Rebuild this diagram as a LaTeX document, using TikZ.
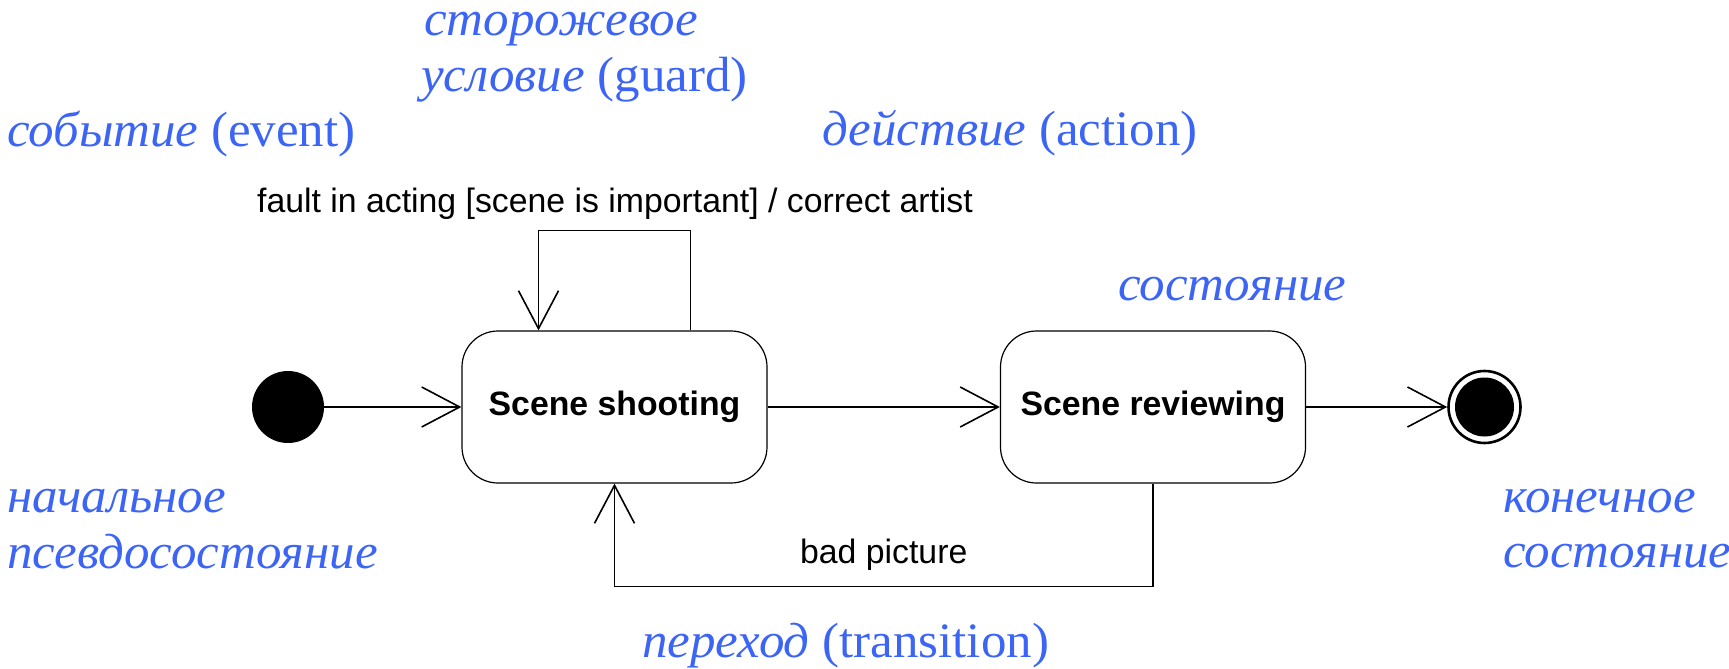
\documentclass[tikz,border=0pt]{standalone}
\usepackage{fontspec}
\setmainfont{Liberation Serif}
\newfontfamily\diagsans{Liberation Sans}
\newfontfamily\notefont{Liberation Serif}[FakeStretch=1.03]
\usetikzlibrary{arrows.meta,calc}
\definecolor{notecol}{RGB}{60,100,245}
\begin{document}
\begin{tikzpicture}[x=1bp,y=-1bp,
  statebox/.style={draw, line width=1.2bp, rounded corners=36bp,
    minimum width=305bp, minimum height=152bp, inner sep=0pt,
    font=\diagsans\fontsize{33.8bp}{40bp}\selectfont\bfseries},
  flow/.style={line width=1.6bp,
    -{Straight Barb[length=38bp,width=40bp,line width=1.6bp]}},
  trlabel/.style={font=\diagsans\fontsize{33.8bp}{40bp}\selectfont,
    inner sep=0pt, anchor=base},
  note/.style={text=notecol, font=\notefont\fontsize{49.5bp}{56bp}\selectfont,
    inner sep=0pt, anchor=base west},
]
\useasboundingbox (0,0) rectangle (1729,669);

% states
\node[circle, fill=black, minimum size=72bp, inner sep=0pt] (init) at (288,407) {};
\node[statebox] (shoot) at (614.5,407) {Scene shooting};
\node[statebox] (review) at (1153,407) {Scene reviewing};
\node[circle, draw, line width=2.6bp, minimum size=72bp, inner sep=0pt] (final) at (1484.5,407) {};
\fill (final.center) circle (29.5bp);

% transitions
\draw[flow] (init) -- (shoot);
\draw[flow] (shoot) -- (review);
\draw[flow] (review) -- (final);
\draw[flow] ($(shoot.north)+(76,0)$) -- ++(0,-100) -| ($(shoot.north)+(-76,0)$);
\draw[flow] (review.south) -- ++(0,103) -| (shoot.south);

% transition labels
\node[trlabel] (selflbl) at (615,212) {fault in acting [scene is important] / correct artist};
\node[trlabel] (backlbl) at (883.75,563) {bad picture};

% annotations
\node[note] (nguard1) at (424,36) {\textit{сторожевое}};
\node[note] (nguard2) at (421,92) {\textit{условие} (guard)};
\node[note] (nevent) at (7,147) {\textit{событие} (event)};
\node[note] (naction) at (822,146) {\textit{действие} (action)};
\node[note] (nstate) at (1118,300) {\textit{состояние}};
\node[note] (ninit1) at (7,512) {\textit{начальное}};
\node[note] (ninit2) at (7,568) {\textit{псевдосостояние}};
\node[note] (ntrans) at (642,657) {\textit{переход} (transition)};
\node[note] (nfinal1) at (1503,512) {\textit{конечное}};
\node[note] (nfinal2) at (1503,567) {\textit{состояние}};
\end{tikzpicture}
\end{document}
